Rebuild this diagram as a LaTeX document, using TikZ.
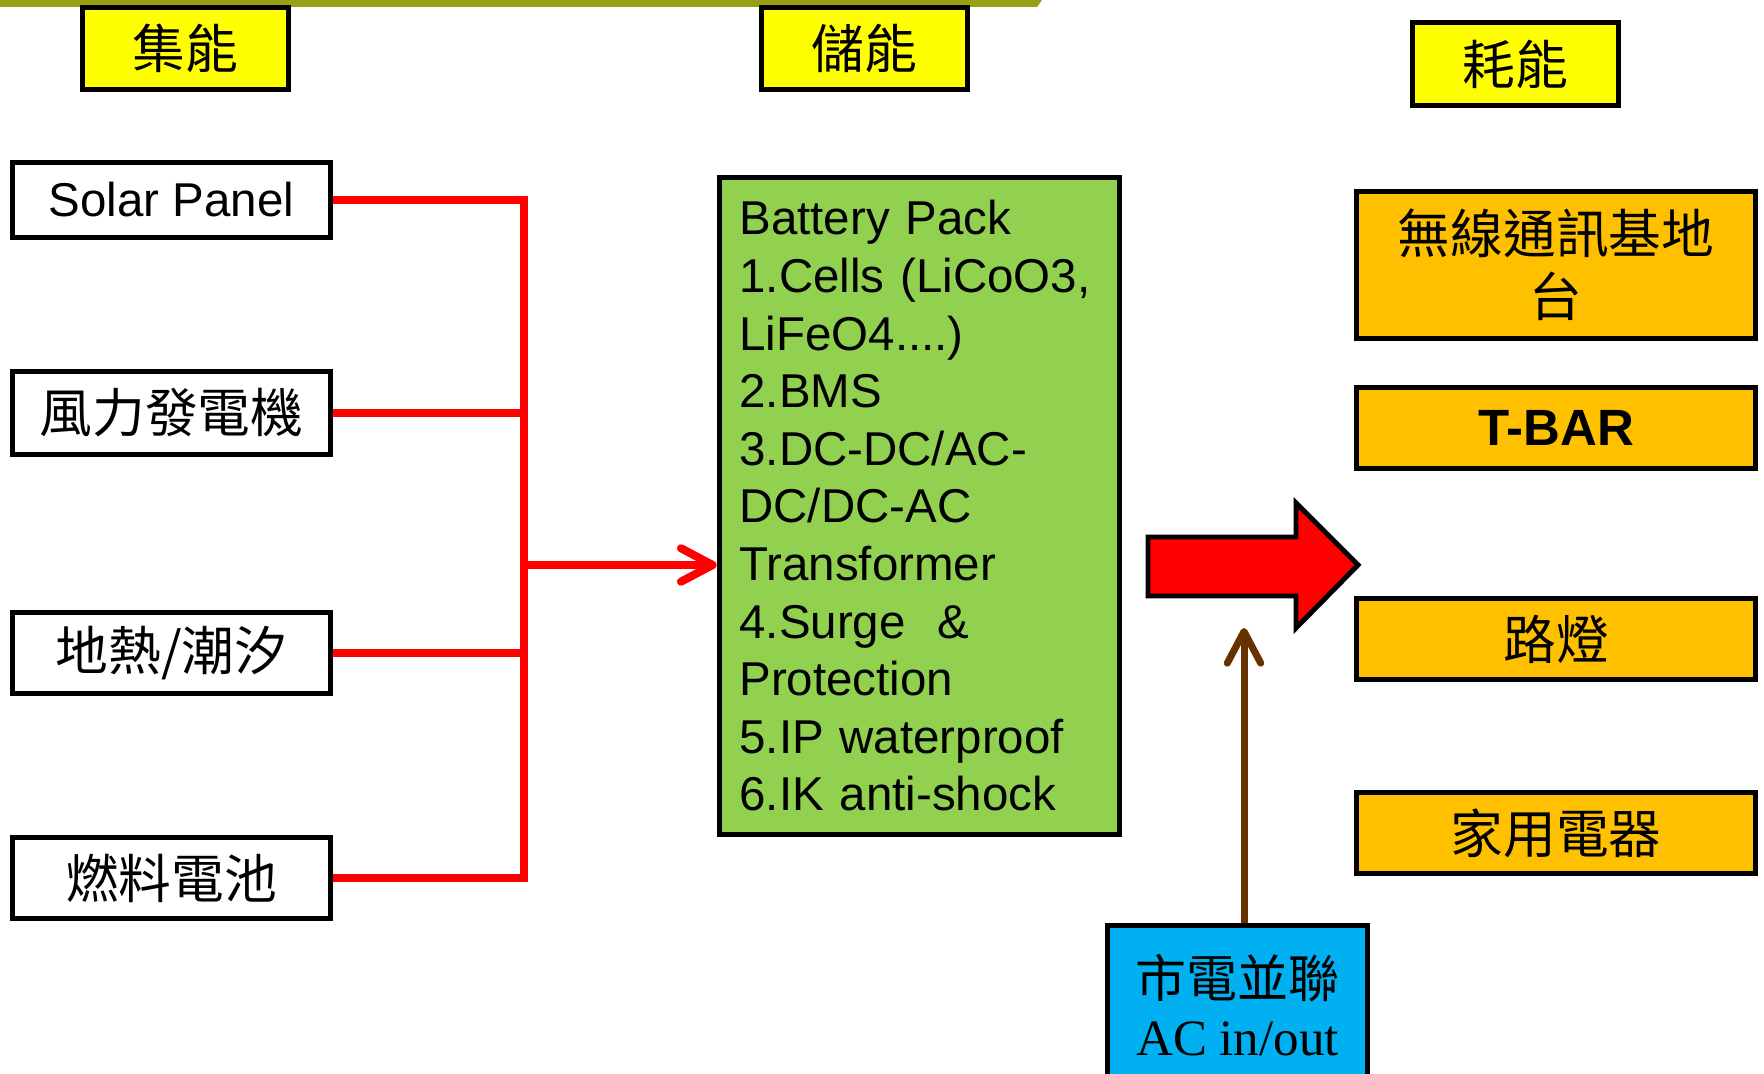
\documentclass[tikz,border=0pt]{standalone}
\usepackage{fontspec}
\setmainfont{Liberation Sans}
\newfontfamily\cjk{Noto Sans CJK TC}
\newfontfamily\timesfont{Liberation Serif}
\usetikzlibrary{arrows.meta}

\definecolor{headyellow}{HTML}{FFFF00}
\definecolor{packgreen}{HTML}{92D050}
\definecolor{loadorange}{HTML}{FFC000}
\definecolor{gridblue}{HTML}{00B0F0}
\definecolor{acbrown}{HTML}{663300}
\definecolor{barolive}{RGB}{153,160,20}

\begin{document}
\begin{tikzpicture}[x=0.01cm, y=-0.01cm,
    >={Straight Barb[length=9pt, width=9.5pt, round]},
    outline/.style={draw=black, line width=1.4pt, inner sep=0pt},
    headbox/.style={outline, fill=headyellow, minimum width=2.065cm, minimum height=0.825cm,
        font=\cjk\fontsize{15}{18}\selectfont},
    srcbox/.style={outline, fill=white, minimum width=3.185cm, minimum height=0.815cm,
        font=\cjk\fontsize{15}{18}\selectfont},
    loadbox/.style={outline, fill=loadorange, minimum width=3.995cm, minimum height=0.815cm,
        font=\cjk\fontsize{15}{18}\selectfont, align=center},
    busline/.style={draw=red, line width=2.3pt},
]
    \useasboundingbox (0,0) rectangle (1764,1074);

    % top rule
    \fill[barolive] (0,0) -- (1042,0) -- (1037,7) -- (0,7) -- cycle;

    % column heads
    \node[headbox] (collect) at (185.5,48.5) {集能};
    \node[headbox] (store) at (864.5,48.5) {儲能};
    \node[headbox] (consume) at (1515.5,64) {耗能};

    % sources
    \node[srcbox, minimum height=0.755cm, font=\fontsize{13.5}{16}\selectfont] (solar) at (171.5,200) {Solar Panel};
    \node[srcbox, minimum height=0.835cm] (wind) at (171.5,413) {風力發電機};
    \node[srcbox] (geo) at (171.5,653) {地熱/潮汐};
    \node[srcbox] (fuel) at (171.5,878) {燃料電池};

    % battery pack
    \node[outline, fill=packgreen, minimum width=4.005cm, minimum height=6.575cm,
          inner xsep=0.2cm, text width=3.6cm, align=left,
          font=\fontsize{13.5}{16.38}\selectfont] (pack) at (919.5,506) {Battery Pack\\
        1.Cells (LiCoO3,\\
        LiFeO4....)\\
        2.BMS\\
        3.DC-DC/AC-\\
        DC/DC-AC\\
        Transformer\\
        4.Surge~~\&\\
        Protection\\
        5.IP waterproof\\
        6.IK anti-shock};

    % loads
    \node[loadbox, minimum height=1.475cm] (base) at (1556,265) {無線通訊基地\\台};
    \node[loadbox, font=\bfseries\fontsize{14.5}{17}\selectfont] (tbar) at (1556,428) {T-BAR};
    \node[loadbox] (lamp) at (1556,639) {路燈};
    \node[loadbox] (home) at (1556,833) {家用電器};

    % grid tie
    \node[outline, fill=gridblue, minimum width=2.605cm, minimum height=1.58cm, align=center,
          font=\fontsize{14.5}{16.6}\selectfont] (grid) at (1237.5,1005)
        {{\cjk 市電並聯}\\{\timesfont AC in/out}};

    % collecting bus
    \coordinate (bustop) at (524,200);
    \coordinate (busbot) at (524,878);
    \coordinate (busmid) at (524,565);
    \draw[busline] (solar.east) -- (bustop) -- (busbot) -- (fuel.east);
    \draw[busline] (wind.east) -- (wind.east -| bustop);
    \draw[busline] (geo.east) -- (geo.east -| bustop);
    \draw[busline, ->] (busmid) -- (busmid -| pack.west);

    % output arrow
    \draw[line width=1.4pt, fill=red, line join=miter]
        (1148,537) -- (1296,537) -- (1296,503) -- (1358,565) -- (1296,628)
        -- (1296,596) -- (1148,596) -- cycle;

    % AC in/out
    \coordinate (acin) at (1244,628);
    \draw[acbrown, line width=2pt, ->] (grid.north -| acin) -- (acin);
\end{tikzpicture}
\end{document}
